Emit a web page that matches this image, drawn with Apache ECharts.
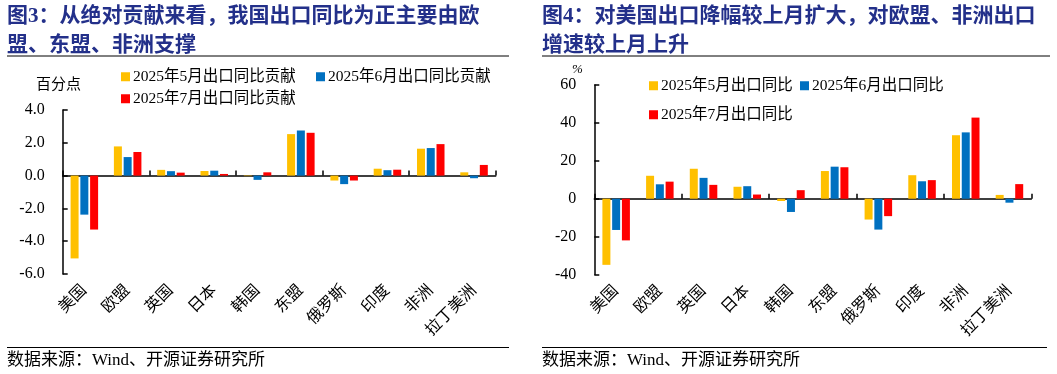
<!DOCTYPE html>
<html><head><meta charset="utf-8">
<script src="https://cdn.jsdelivr.net/npm/echarts@6/dist/echarts.min.js"></script>
<style>html,body{margin:0;padding:0;background:#fff}#c{width:1057px;height:374px}</style>
</head><body><div id="c"></div>
<script>
// ---- data ----
const categories = ['美国','欧盟','英国','日本','韩国','东盟','俄罗斯','印度','非洲','拉丁美洲'];
const contribNames = ['2025年5月出口同比贡献','2025年6月出口同比贡献','2025年7月出口同比贡献'];
const contribMay = [-5.05, 1.78, 0.35, 0.28, -0.03, 2.53, -0.30, 0.42, 1.64, 0.20];
const contribJun = [-2.38, 1.13, 0.27, 0.30, -0.26, 2.75, -0.52, 0.33, 1.68, -0.16];
const contribJul = [-3.29, 1.44, 0.18, 0.10, 0.20, 2.61, -0.30, 0.36, 1.92, 0.65];
const yoyNames = ['2025年5月出口同比','2025年6月出口同比','2025年7月出口同比'];
const yoyMay = [-34.9, 12.1, 15.8, 6.3, -1.2, 14.6, -11.0, 12.4, 33.5, 2.0];
const yoyJun = [-16.5, 7.6, 11.0, 6.6, -7.0, 16.9, -16.3, 9.2, 35.0, -2.1];
const yoyJul = [-22.0, 9.0, 7.3, 2.2, 4.5, 16.6, -9.2, 9.8, 42.8, 7.7];
const leftTicks = {min: -6, max: 4, interval: 2};
const rightTicks = {min: -40, max: 60, interval: 20};
const titleLeft = '图3：从绝对贡献来看，我国出口同比为正主要由欧\n盟、东盟、非洲支撑';
const titleRight = '图4：对美国出口降幅较上月扩大，对欧盟、非洲出口\n增速较上月上升';
const sourceText = '数据来源：Wind、开源证券研究所';
const leftUnit = '百分点';
const rightUnit = '%';

// ---- styles ----
const colors = ['#FFC000', '#0070C0', '#FF0000'];
const F = '"Liberation Serif", "Noto Sans CJK SC", serif';
const TITLE_COLOR = '#23308A';

const chart = echarts.init(document.getElementById('c'), null, {renderer: 'canvas'});

function xAxes(gridIndex) {
  return [
    { type: 'category', gridIndex, data: categories, axisLine: {onZero: true, lineStyle: {color: '#000', width: 1.5}},
      axisTick: {show: true, inside: true, length: 5, lineStyle: {color: '#000', width: 1.5}}, axisLabel: {show: false} },
    { type: 'category', gridIndex, data: categories, position: 'bottom', axisLine: {show: false, onZero: false},
      axisTick: {show: false}, axisLabel: {rotate: 45, margin: 14, fontFamily: F, fontSize: 16, color: '#000'} }
  ];
}
function yAxis(gridIndex, t, dec) {
  return { type: 'value', gridIndex, min: t.min, max: t.max, interval: t.interval,
    axisLine: {show: true, lineStyle: {color: '#000', width: 1.5}},
    axisTick: {show: true, inside: true, length: 5, lineStyle: {color: '#000', width: 1.5}},
    splitLine: {show: false},
    axisLabel: {margin: 18, fontFamily: F, fontSize: 16, color: '#000', formatter: v => v.toFixed(dec)} };
}
function bars(names, arrs, xi, yi) {
  return names.map((n, i) => ({ name: n, type: 'bar', xAxisIndex: xi, yAxisIndex: yi, data: arrs[i],
    barWidth: 8, barGap: '22%', itemStyle: {color: colors[i]}, animation: false }));
}
function legend(name, left, top) {
  return { data: [name], left, top, padding: 0, icon: 'rect', itemWidth: 9, itemHeight: 9,
    textStyle: {fontFamily: F, fontSize: 15.5, color: '#000', padding: [0, 0, 0, -2]}, selectedMode: false };
}

chart.setOption({
  animation: false,
  color: colors,
  grid: [
    {left: 62.7, top: 110, width: 433, height: 164},
    {left: 594.3, top: 85, width: 437, height: 189.5}
  ],
  xAxis: [...xAxes(0), ...xAxes(1)],
  yAxis: [yAxis(0, leftTicks, 1), yAxis(1, rightTicks, 0)],
  legend: [
    legend(contribNames[0], 121, 69), legend(contribNames[1], 316, 69), legend(contribNames[2], 121, 91),
    legend(yoyNames[0], 649, 78), legend(yoyNames[1], 800, 78), legend(yoyNames[2], 649, 107)
  ],
  series: [
    ...bars(contribNames, [contribMay, contribJun, contribJul], 0, 0),
    ...bars(yoyNames, [yoyMay, yoyJun, yoyJul], 2, 1)
  ],
  graphic: [
    {type: 'text', left: 7, top: 2, style: {text: titleLeft, font: 'bold 21px ' + F, fill: TITLE_COLOR, lineHeight: 29}},
    {type: 'text', left: 542, top: 2, style: {text: titleRight, font: 'bold 21px ' + F, fill: TITLE_COLOR, lineHeight: 29}},
    {type: 'line', shape: {x1: 7, y1: 56, x2: 509, y2: 56}, style: {stroke: '#000', lineWidth: 1}},
    {type: 'line', shape: {x1: 542, y1: 56, x2: 1050, y2: 56}, style: {stroke: '#000', lineWidth: 1}},
    {type: 'line', shape: {x1: 7, y1: 347.5, x2: 509, y2: 347.5}, style: {stroke: '#000', lineWidth: 1}},
    {type: 'line', shape: {x1: 542, y1: 347.5, x2: 1047, y2: 347.5}, style: {stroke: '#000', lineWidth: 1}},
    {type: 'text', left: 7, top: 352, style: {text: sourceText, font: '17px ' + F, fill: '#000'}},
    {type: 'text', left: 542, top: 352, style: {text: sourceText, font: '17px ' + F, fill: '#000'}},
    {type: 'text', left: 36, top: 78, style: {text: leftUnit, font: '15px ' + F, fill: '#000'}},
    {type: 'text', left: 572, top: 63, style: {text: rightUnit, font: 'italic 13px ' + F, fill: '#000'}}
  ]
});
</script></body></html>
